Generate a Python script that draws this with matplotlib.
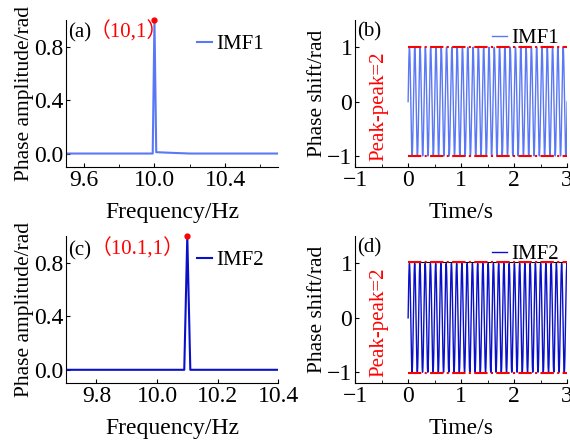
import numpy as np
import matplotlib.pyplot as plt

plt.rcParams['font.family'] = ['Liberation Serif', 'Noto Sans CJK SC']
plt.rcParams['font.size'] = 16

# spectrum (a): IMF1, peak (10, 1)
freq1 = [9.5, 9.99, 10.0, 10.01, 10.1, 10.2, 10.7]
amp1 = [0.0, 0.0, 1.0, 0.01, 0.005, 0.0, 0.0]
# spectrum (c): IMF2, peak (10.1, 1)
freq2 = [9.7, 10.09, 10.1, 10.11, 10.4]
amp2 = [0.0, 0.0, 1.0, 0.0, 0.0]

# time signals: frequency / amplitude read from the peaks
f1, a1 = 10.0, 1.0
f2, a2 = 10.1, 1.0
t = np.linspace(0, 3, 3001)
imf1 = a1 * np.sin(2 * np.pi * f1 * t)
imf2 = a2 * np.sin(2 * np.pi * f2 * t)

c1 = '#5a78f5'
c2 = '#0a10c8'

TICK = 17
XLAB = 17
YLAB = 15.5
LEG = 15

fig = plt.figure(figsize=(5.7, 4.45), dpi=100)
W, H = 0.372, 0.330
axa = fig.add_axes([0.116, 0.625, W, H])
axb = fig.add_axes([0.623, 0.625, W, H])
axc = fig.add_axes([0.116, 0.139, W, H])
axd = fig.add_axes([0.623, 0.139, W, H])

for ax in (axa, axb, axc, axd):
    ax.spines['top'].set_visible(False)
    ax.spines['right'].set_visible(False)
    ax.tick_params(direction='in', which='both', length=3, labelsize=TICK, pad=2)
    ax.tick_params(which='minor', length=2)

leg_kw = dict(loc='upper right', frameon=False, handlelength=0.7, handletextpad=0.2,
              fontsize=LEG)

# (a)
axa.plot(freq1, amp1, color=c1, lw=1.5, label='IMF1')
axa.plot([10.0], [1.0], 'o', color='red', ms=3.5, clip_on=False)
axa.set_xlim(9.5, 10.7)
axa.set_ylim(-0.1, 1.0)
axa.set_xticks([9.6, 10.0, 10.4])
axa.set_xticks([9.8, 10.2, 10.6], minor=True)
axa.set_yticks([0.0, 0.4, 0.8])
axa.set_xlabel('Frequency/Hz', fontsize=XLAB, labelpad=8)
axa.set_ylabel('Phase amplitude/rad', fontsize=YLAB, labelpad=0)
axa.text(9.51, 0.87, '(a)', fontsize=LEG)
axa.text(9.63, 0.87, '（10,1）', color='red', fontsize=LEG)
axa.legend(borderaxespad=0.3, **leg_kw)

# (b)
axb.plot(t, imf1, color=c1, lw=1.0, label='IMF1')
axb.plot([0, 3], [1, 1], color='red', ls='-.', lw=1.5)
axb.plot([0, 3], [-1, -1], color='red', ls='-.', lw=1.5)
axb.set_xlim(-1, 3)
axb.set_ylim(-1.2, 1.5)
axb.set_xticks([-1, 0, 1, 2, 3])
axb.set_xticks([-0.5, 0.5, 1.5, 2.5], minor=True)
axb.set_yticks([-1, 0, 1])
axb.set_yticklabels(['\u22121', '0', '1'])
axb.set_xticklabels(['\u22121', '0', '1', '2', '3'])
axb.set_xlabel('Time/s', fontsize=XLAB, labelpad=8)
axb.set_ylabel('Phase shift/rad', fontsize=YLAB, labelpad=0)
axb.text(-0.97, 1.2, '(b)', fontsize=LEG)
axb.text(-0.55, -0.08, 'Peak-peak=2', color='red', rotation=90, ha='center', va='center',
         fontsize=LEG)
axb.legend(borderaxespad=0.0, **leg_kw)

# (c)
axc.plot(freq2, amp2, color=c2, lw=1.5, label='IMF2')
axc.plot([10.1], [1.0], 'o', color='red', ms=3.5, clip_on=False)
axc.set_xlim(9.7, 10.4)
axc.set_ylim(-0.1, 1.0)
axc.set_xticks([9.8, 10.0, 10.2, 10.4])
axc.set_yticks([0.0, 0.4, 0.8])
axc.set_xlabel('Frequency/Hz', fontsize=XLAB, labelpad=8)
axc.set_ylabel('Phase amplitude/rad', fontsize=YLAB, labelpad=0)
axc.text(9.705, 0.86, '(c)', fontsize=LEG)
axc.text(9.78, 0.86, '（10.1,1）', color='red', fontsize=LEG)
axc.legend(borderaxespad=0.3, **leg_kw)

# (d)
axd.plot(t, imf2, color=c2, lw=1.0, label='IMF2')
axd.plot([0, 3], [1.02, 1.02], color='black', lw=0.8)
axd.plot([0, 3], [1.02, 1.02], color='red', ls='-.', lw=1.5)
axd.plot([0, 3], [-1.02, -1.02], color='red', ls='-.', lw=1.5)
axd.set_xlim(-1, 3)
axd.set_ylim(-1.2, 1.5)
axd.set_xticks([-1, 0, 1, 2, 3])
axd.set_xticks([-0.5, 0.5, 1.5, 2.5], minor=True)
axd.set_yticks([-1, 0, 1])
axd.set_yticklabels(['\u22121', '0', '1'])
axd.set_xticklabels(['\u22121', '0', '1', '2', '3'])
axd.set_xlabel('Time/s', fontsize=XLAB, labelpad=8)
axd.set_ylabel('Phase shift/rad', fontsize=YLAB, labelpad=0)
axd.text(-0.97, 1.2, '(d)', fontsize=LEG)
axd.text(-0.55, -0.08, 'Peak-peak=2', color='red', rotation=90, ha='center', va='center',
         fontsize=LEG)
axd.legend(borderaxespad=0.0, **leg_kw)

fig.savefig('out.png', dpi=100)
